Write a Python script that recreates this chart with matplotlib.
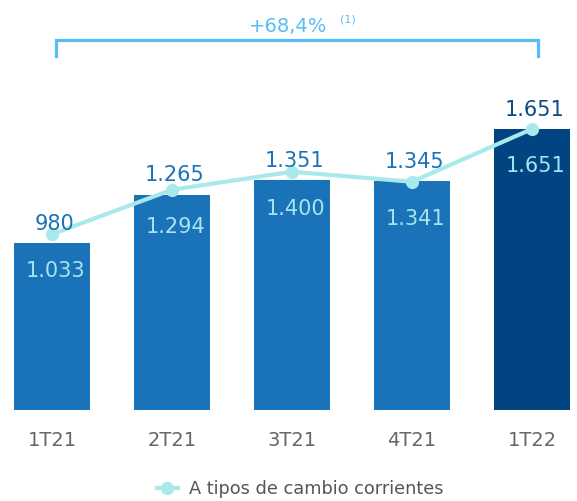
import matplotlib.pyplot as plt
from matplotlib.lines import Line2D
import matplotlib.transforms as mtransforms

# datos (millones de euros)
quarters = ['1T21', '2T21', '3T21', '4T21', '1T22']
constant_fx = [980, 1265, 1351, 1345, 1651]      # barras
current_fx = [1033, 1294, 1400, 1341, 1651]      # linea: a tipos de cambio corrientes
growth_label = '+68,4%'

bar_colors = ['#1a72b8'] * 4 + ['#004481']
top_colors = ['#1a72b8'] * 4 + ['#0b4a85']
line_color = '#a9e9ec'

fig = plt.figure(figsize=(5.77, 5.01), dpi=100)
ax = fig.add_axes([0, 0, 1, 1])
ax.set_xlim(-0.4333, 4.375)
ax.set_ylim(-534.7, 2408.9)
ax.axis('off')

x = range(len(quarters))
ax.bar(x, constant_fx, width=0.64, color=bar_colors, zorder=1)
ax.plot(x, current_fx, color=line_color, lw=3, marker='o', markersize=8.5, zorder=3)

for i in x:
    ax.annotate(f'{constant_fx[i]:,}'.replace(',', '.'), (i, constant_fx[i]),
                xytext=(2, 9.5), textcoords='offset points', ha='center', va='baseline',
                fontsize=15, color=top_colors[i], zorder=4)
    ax.annotate(f'{current_fx[i]:,}'.replace(',', '.'), (i, current_fx[i]),
                xytext=(2.5, -31), textcoords='offset points', ha='center', va='baseline',
                fontsize=15, color='#a8e4ef', zorder=4)
    ax.annotate(quarters[i], (i, 0), xytext=(0, -22), textcoords='offset points',
                ha='center', va='center', fontsize=14, color='#666666')

# corchete de crecimiento
tr = mtransforms.blended_transform_factory(ax.transData, fig.transFigure)
bx0, bx1 = 0.033, 4.05
ax.plot([bx0, bx0, bx1, bx1], [0.888, 0.921, 0.921, 0.888], transform=tr,
        color='#5bbcf5', lw=2.3, clip_on=False, solid_joinstyle='miter')
ax.text(1.967, 0.936, growth_label, transform=tr, ha='center', va='baseline',
        fontsize=14, color='#5bbcf5')
ax.text(2.467, 0.956, '(1)', transform=tr, ha='center', va='baseline',
        fontsize=8, color='#5bbcf5')

handle = Line2D([], [], color=line_color, lw=3, marker='o', markersize=8.5)
fig.legend([handle], ['A tipos de cambio corrientes'], loc='center',
           bbox_to_anchor=(0.52, 0.024), frameon=False, fontsize=12.8,
           labelcolor='#555555', handlelength=1.2, handletextpad=0.6)

fig.savefig('out.png', dpi=100)
